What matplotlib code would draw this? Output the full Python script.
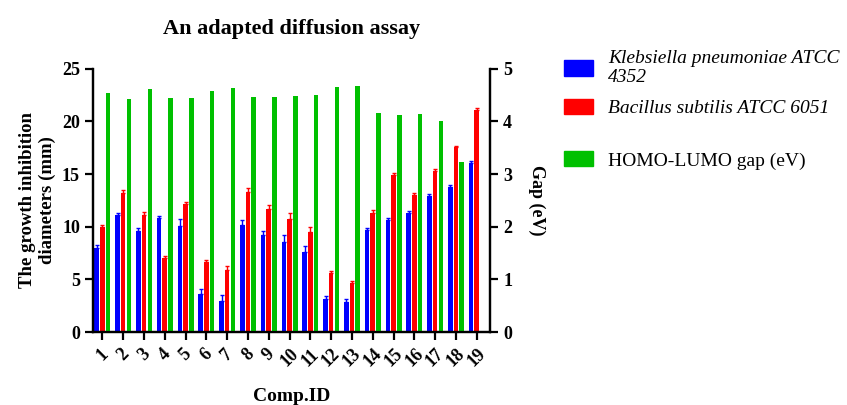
import numpy as np
import matplotlib
matplotlib.use("Agg")
import matplotlib.pyplot as plt
from matplotlib.patches import Patch

plt.rcParams['font.family'] = ['Liberation Serif', 'DejaVu Serif']

# compounds 1..19
comp_ids = [str(i) for i in range(1, 20)]

# inhibition diameters (mm) + upper error
klebsiella = [8.0, 11.1, 9.6, 10.8, 10.1, 3.6, 3.0, 10.2, 9.2, 8.6,
              7.65, 3.1, 2.9, 9.65, 10.67, 11.3, 12.95, 13.75, 16.06]
klebsiella_err = [0.25, 0.25, 0.3, 0.2, 0.6, 0.5, 0.5, 0.4, 0.4, 0.6,
                  0.5, 0.35, 0.25, 0.2, 0.2, 0.2, 0.2, 0.2, 0.2]
bacillus = [10.0, 13.2, 11.1, 7.0, 12.2, 6.65, 5.85, 13.3, 11.7, 10.75,
            9.5, 5.6, 4.7, 11.35, 14.95, 13.0, 15.3, 17.55, 21.08]
bacillus_err = [0.2, 0.3, 0.3, 0.2, 0.2, 0.2, 0.4, 0.4, 0.4, 0.6,
                0.45, 0.2, 0.15, 0.2, 0.2, 0.2, 0.2, 0.15, 0.2]

# HOMO-LUMO gap (eV), no value for comp 19
gap = [4.54, 4.43, 4.61, 4.44, 4.44, 4.58, 4.64, 4.47, 4.46, 4.48,
       4.5, 4.65, 4.68, 4.16, 4.13, 4.15, 4.0, 3.23, np.nan]

blue = '#0000ff'
red = '#ff0000'
green = '#00c000'

x = np.arange(1, 20)
w = 0.22

fig = plt.figure(figsize=(8.47, 4.05), dpi=100)
ax = fig.add_axes([0.110, 0.180, 0.4685, 0.650])
ax2 = ax.twinx()

zeros = np.zeros(len(x))
ax.bar(x - 0.27, klebsiella, w, color=blue, yerr=[zeros, klebsiella_err],
       error_kw=dict(ecolor=blue, capsize=1.5, elinewidth=1, capthick=1))
ax.bar(x, bacillus, w, color=red, yerr=[zeros, bacillus_err],
       error_kw=dict(ecolor=red, capsize=1.5, elinewidth=1, capthick=1))
ax2.bar(x + 0.28, gap, w, color=green)

ax.set_xlim(0.557, 19.64)
ax.set_ylim(0, 25)
ax2.set_ylim(0, 5)
ax.set_yticks([0, 5, 10, 15, 20, 25])
ax2.set_yticks([0, 1, 2, 3, 4, 5])
ax.set_xticks(x)
ax.set_xticklabels(comp_ids, rotation=45, fontweight='bold', fontsize=12)

for a in (ax, ax2):
    a.spines['top'].set_visible(False)
    for s in a.spines.values():
        s.set_linewidth(1.6)
    a.tick_params(width=1.6, length=6, labelsize=13)
for lab in ax.get_yticklabels() + ax2.get_yticklabels():
    lab.set_fontweight('bold')

ax.set_xlabel('Comp.ID', fontweight='bold', fontsize=14, labelpad=13)
ax.set_ylabel('The growth inhibition\ndiameters (mm)', fontweight='bold', fontsize=13.5)
ax2.set_ylabel('Gap (eV)', fontweight='bold', fontsize=13, rotation=270, labelpad=24)
ax.set_title('An adapted diffusion assay', fontweight='bold', fontsize=16, pad=25)

# legend: two bacteria close together, gap entry further down
leg_kw = dict(loc='upper left', frameon=False, fontsize=14, handlelength=1.5,
              handleheight=0.82, handletextpad=0.75)
leg1 = fig.legend([Patch(color=blue), Patch(color=red)],
                  ['Klebsiella pneumoniae ATCC\n4352', 'Bacillus subtilis ATCC 6051'],
                  bbox_to_anchor=(0.6455, 0.92), labelspacing=0.65, **leg_kw)
for t in leg1.get_texts():
    t.set_fontstyle('italic')
leg2 = fig.legend([Patch(color=green)], ['HOMO-LUMO gap (eV)'],
                  bbox_to_anchor=(0.6455, 0.67), **leg_kw)

fig.savefig('out.png', dpi=100)
